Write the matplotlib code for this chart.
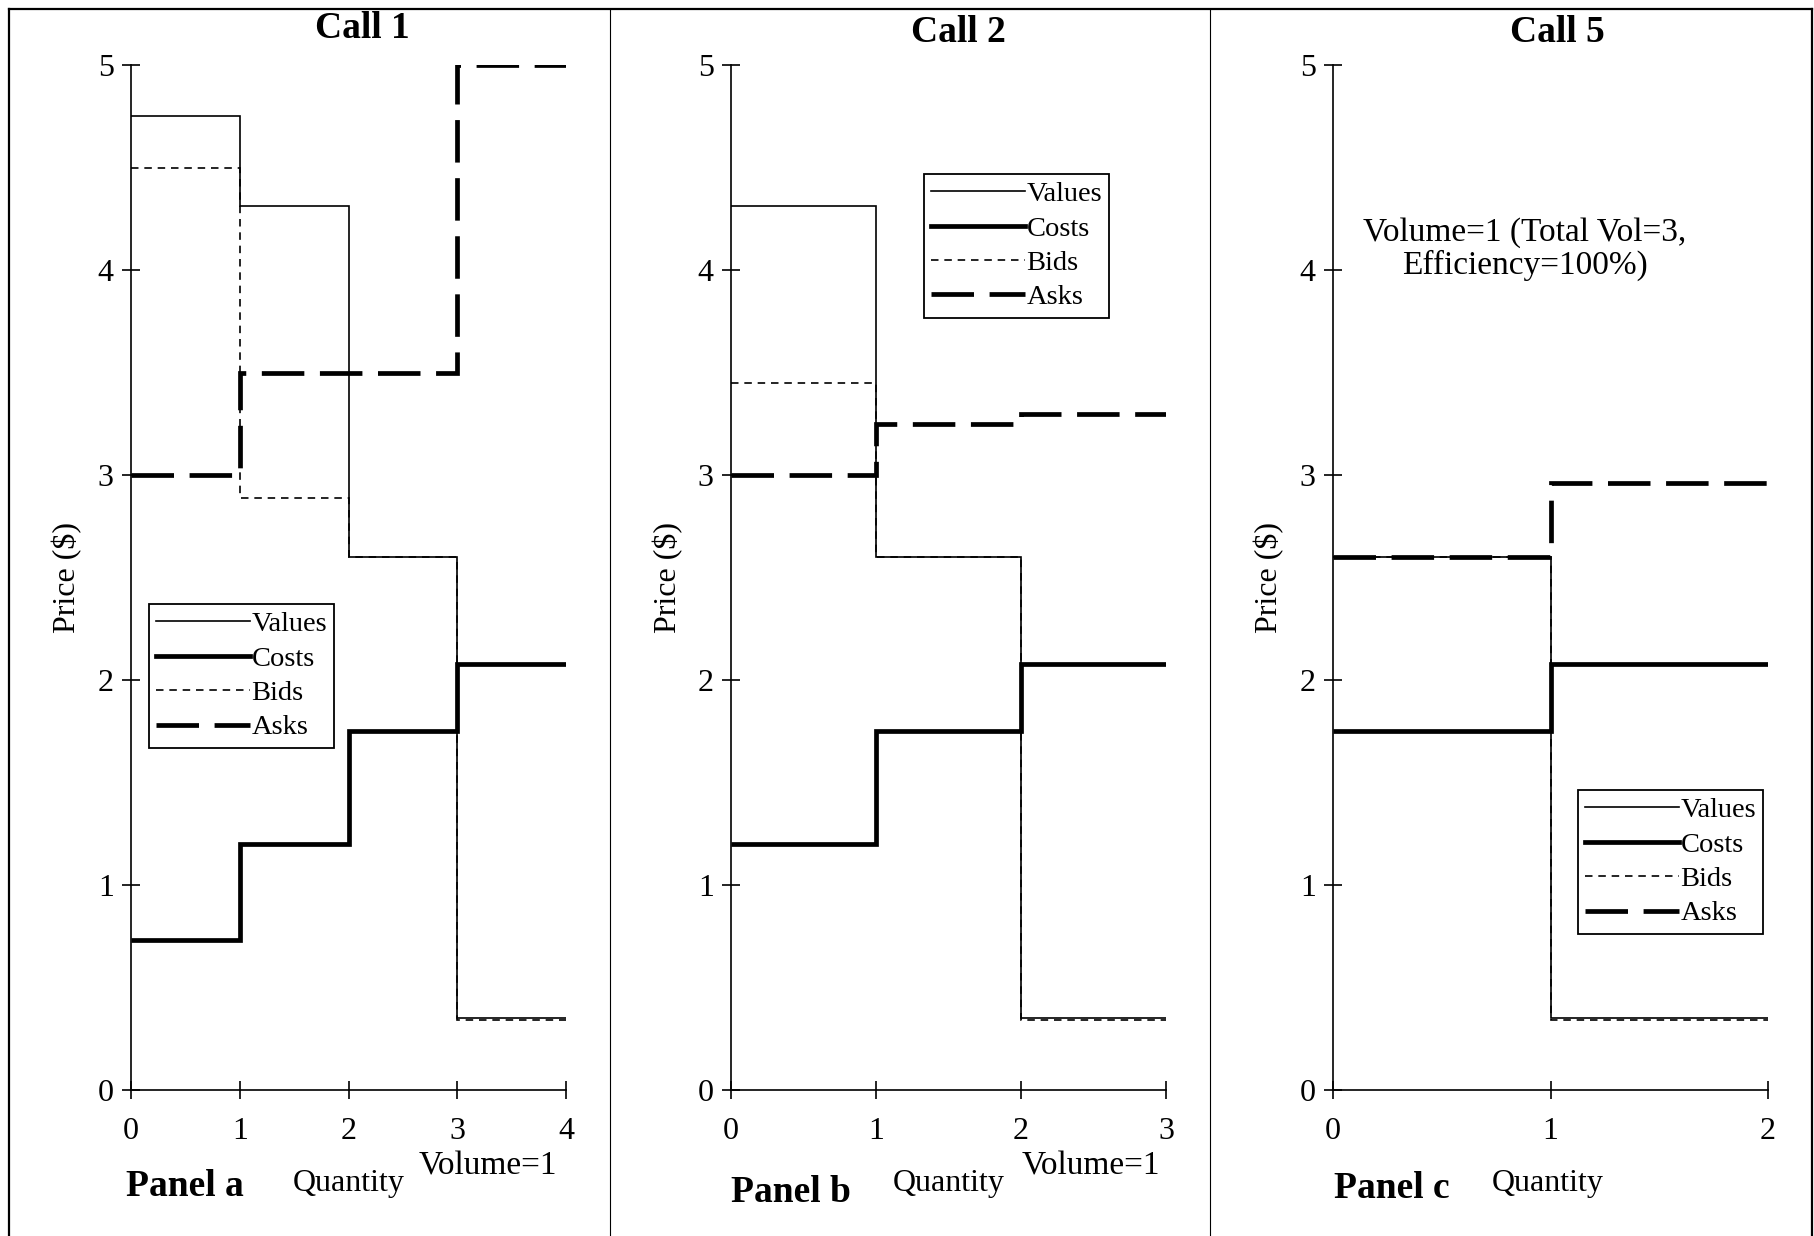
import matplotlib.pyplot as plt
from matplotlib.lines import Line2D

plt.rcParams['font.family'] = ['Liberation Serif', 'DejaVu Serif']

# step data for each call, one value per unit of quantity
calls = ['Call 1', 'Call 2', 'Call 5']
panels = ['Panel a', 'Panel b', 'Panel c']

values_a = [4.75, 4.31, 2.60, 0.35]
costs_a = [0.73, 1.20, 1.75, 2.08]
bids_a = [4.50, 2.89, 2.60, 0.34]
asks_a = [3.00, 3.50, 3.50, 5.00]

values_b = [4.31, 2.60, 0.35]
costs_b = [1.20, 1.75, 2.08]
bids_b = [3.45, 2.60, 0.34]
asks_b = [3.00, 3.25, 3.30]

values_c = [2.60, 0.35]
costs_c = [1.75, 2.08]
bids_c = [2.60, 0.34]
asks_c = [2.60, 2.96]

series = [
    (values_a, costs_a, bids_a, asks_a),
    (values_b, costs_b, bids_b, asks_b),
    (values_c, costs_c, bids_c, asks_c),
]
yticks = [0, 1, 2, 3, 4, 5]

W, H = 1814, 1236
fig = plt.figure(figsize=(W / 100, H / 100), dpi=100)


def fx(px):
    return px / W


def fy(py):
    return 1 - py / H


# axes boxes in pixels: left, right, top, bottom
boxes = [(131, 566, 65, 1090), (731, 1166, 65, 1090), (1333, 1768, 65, 1090)]
legend_pos = [(149, 604), (924, 174), (1578, 790)]
title_pos = [(362, 29), (958, 32), (1557, 32)]
panel_pos = [(185, 1186), (791, 1192), (1392, 1189)]
quant_pos = [(349, 1183), (949, 1183), (1548, 1183)]
price_x = [67, 668, 1269]

thin, thick = 1.2, 3.4
bid_ls = (0, (4.5, 3.5))
ask_ls = (0, (9, 3.3))

for i, (vals, costs, bids, asks) in enumerate(series):
    l, r, t, b = boxes[i]
    ax = fig.add_axes([fx(l), fy(b), fx(r - l), (b - t) / H])
    n = len(vals)
    edges = list(range(n + 1))

    ax.stairs(vals, edges, baseline=None, color='black', lw=thin, zorder=2)
    ax.stairs(costs, edges, baseline=None, color='black', lw=thick, zorder=3)
    hb = ax.stairs(bids, edges, baseline=None, color='black', lw=thin, zorder=2)
    hb.set_linestyle(bid_ls)
    ha = ax.stairs(asks, edges, baseline=None, color='black', lw=thick, zorder=4)
    ha.set_linestyle(ask_ls)

    ax.set_xlim(0, n)
    ax.set_ylim(0, 5)
    ax.set_xticks(edges)
    ax.set_yticks(yticks)
    for s in ['top', 'right']:
        ax.spines[s].set_visible(False)
    for s in ['left', 'bottom']:
        ax.spines[s].set_linewidth(1.2)
    ax.tick_params(direction='inout', length=13, width=1.2, labelsize=23)
    ax.tick_params(axis='x', pad=13)
    ax.tick_params(axis='y', pad=6)
    ax.patch.set_alpha(0)

    handles = [
        Line2D([], [], color='black', lw=thin),
        Line2D([], [], color='black', lw=thick),
        Line2D([], [], color='black', lw=thin, ls=bid_ls),
        Line2D([], [], color='black', lw=thick, ls=ask_ls),
    ]
    lx, ly = legend_pos[i]
    leg = ax.legend(handles, ['Values', 'Costs', 'Bids', 'Asks'],
                    loc='upper left', bbox_to_anchor=(fx(lx), fy(ly)),
                    bbox_transform=fig.transFigure, fontsize=20.5,
                    handlelength=3.3, handletextpad=0.05, labelspacing=0.3,
                    borderpad=0.25, borderaxespad=0, fancybox=False,
                    edgecolor='black', framealpha=1)
    leg.get_frame().set_linewidth(1.3)

    tx, ty = title_pos[i]
    fig.text(fx(tx), fy(ty), calls[i], ha='center', va='center',
             fontsize=27, fontweight='bold')
    px, py = panel_pos[i]
    fig.text(fx(px), fy(py), panels[i], ha='center', va='center',
             fontsize=27, fontweight='bold')
    qx, qy = quant_pos[i]
    fig.text(fx(qx), fy(qy), 'Quantity', ha='center', va='center', fontsize=23)
    fig.text(fx(price_x[i]), fy(578), 'Price ($)', ha='center', va='center',
             rotation=90, fontsize=23)

fig.text(fx(488), fy(1166), 'Volume=1', ha='center', va='center', fontsize=24)
fig.text(fx(1091), fy(1166), 'Volume=1', ha='center', va='center', fontsize=24)
fig.text(fx(1525), fy(249), 'Volume=1 (Total Vol=3,\nEfficiency=100%)',
         ha='center', va='center', fontsize=24, linespacing=1.05)

# outer frame and panel dividers
frame_kw = dict(color='black', transform=fig.transFigure)
fig.add_artist(Line2D([fx(9), fx(1812)], [fy(9), fy(9)], lw=1.6, **frame_kw))
fig.add_artist(Line2D([fx(9), fx(9)], [fy(9), 0], lw=1.6, **frame_kw))
fig.add_artist(Line2D([fx(1812), fx(1812)], [fy(9), 0], lw=1.6, **frame_kw))
fig.add_artist(Line2D([fx(610), fx(610)], [fy(9), 0], lw=0.8, **frame_kw))
fig.add_artist(Line2D([fx(1210), fx(1210)], [fy(9), 0], lw=0.8, **frame_kw))

fig.savefig('out.png', dpi=100)
